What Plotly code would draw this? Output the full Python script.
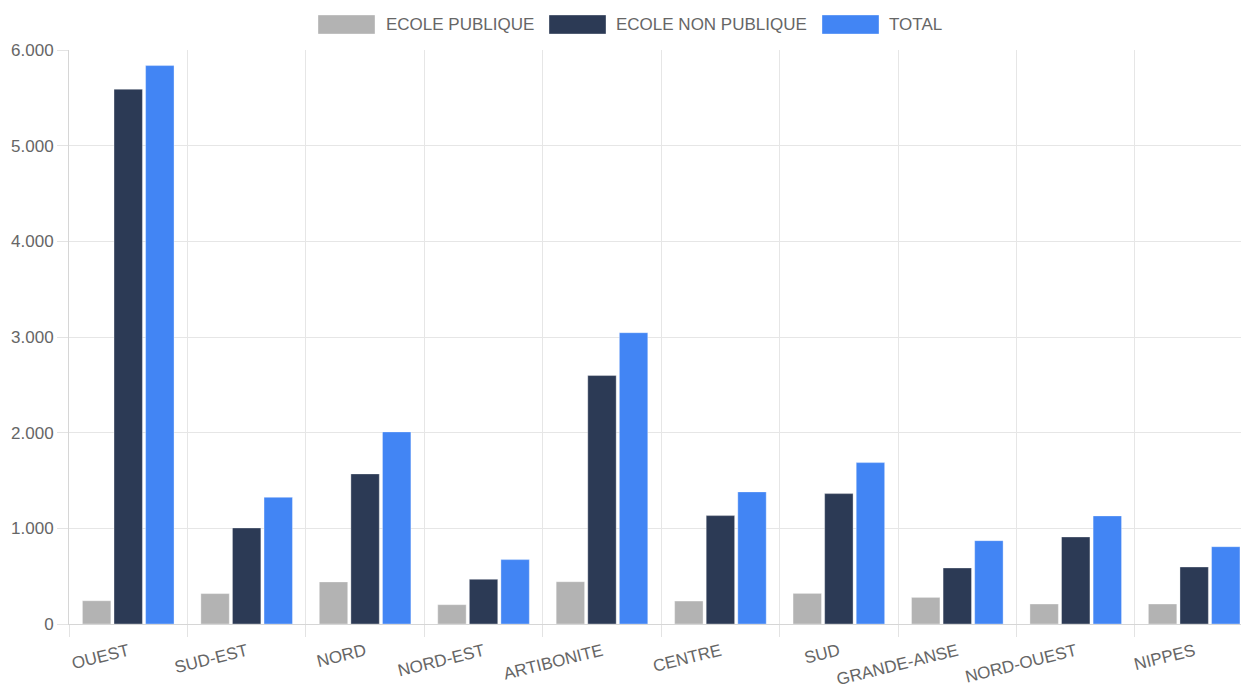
import plotly.graph_objects as go

categories = ["OUEST", "SUD-EST", "NORD", "NORD-EST", "ARTIBONITE", "CENTRE",
              "SUD", "GRANDE-ANSE", "NORD-OUEST", "NIPPES"]
publique = [243, 318, 440, 202, 442, 240, 320, 278, 209, 209]
non_publique = [5590, 1004, 1569, 467, 2597, 1133, 1363, 586, 910, 596]
total = [5837, 1324, 2008, 673, 3045, 1381, 1687, 871, 1130, 808]
series_names = ["ECOLE PUBLIQUE", "ECOLE NON PUBLIQUE", "TOTAL"]
y_ticks = [0, 1000, 2000, 3000, 4000, 5000, 6000]

colors = ["#b3b3b3", "#2c3a55", "#4285f4"]
FONT = "Liberation Sans, Arial, Helvetica, sans-serif"
TXT = "#666666"

W, H = 1241, 690
ML, MR, MT, MB = 69, 0, 50, 66
PW = W - ML - MR
PH = H - MT - MB
cat_px = 118.44

def px_x(p):
    return (p - ML) / PW

def px_y(p):
    return (H - MB - p) / PH

fig = go.Figure()
for name, vals, col in zip(series_names, [publique, non_publique, total], colors):
    fig.add_trace(go.Bar(
        x=categories, y=vals, name=name,
        marker=dict(color=col, line=dict(color="rgba(255,255,255,0.35)", width=1)),
        hoverinfo="skip", showlegend=False,
    ))

# manual legend (Chart.js style wide boxes)
legend_items = [(318, 384), (549, 614), (822, 887)]
for (bx, tx), name, col in zip(legend_items, series_names, colors):
    fig.add_shape(type="rect", xref="paper", yref="paper",
                  x0=px_x(bx), x1=px_x(bx + 57), y0=px_y(34), y1=px_y(15),
                  fillcolor=col, line=dict(color="rgba(255,255,255,0.35)", width=1))
    fig.add_annotation(xref="paper", yref="paper", x=px_x(tx), y=px_y(24.5),
                       xanchor="left", yanchor="middle", text=name, showarrow=False,
                       font=dict(family=FONT, size=17, color=TXT))

fig.update_layout(
    width=W, height=H,
    margin=dict(l=ML, r=MR, t=MT, b=MB),
    paper_bgcolor="white", plot_bgcolor="white",
    barmode="group", bargap=0.2, bargroupgap=0.1,
    separators=",.",
    font=dict(family=FONT, size=17, color=TXT),
)
fig.update_xaxes(
    type="category", range=[-0.5, -0.5 + PW / cat_px],
    tickson="boundaries", ticks="outside", ticklen=12, tickcolor="#e3e3e3",
    showgrid=True, gridcolor="#e6e6e6", gridwidth=1,
    showline=True, linecolor="#d6d6d6", linewidth=1,
    tickangle=-14, tickfont=dict(family=FONT, size=17, color=TXT),
    ticklabelstandoff=10,
    automargin=False, fixedrange=True,
)
fig.update_yaxes(
    range=[0, 6000], tickvals=y_ticks, tickformat=",d",
    ticks="outside", ticklen=11, tickcolor="#e3e3e3",
    showgrid=True, gridcolor="#e6e6e6", gridwidth=1,
    showline=True, linecolor="#d6d6d6", linewidth=1, zeroline=False,
    tickfont=dict(family=FONT, size=17, color=TXT),
    automargin=False, fixedrange=True,
)

fig.write_html("out.html", config={"displayModeBar": False})
